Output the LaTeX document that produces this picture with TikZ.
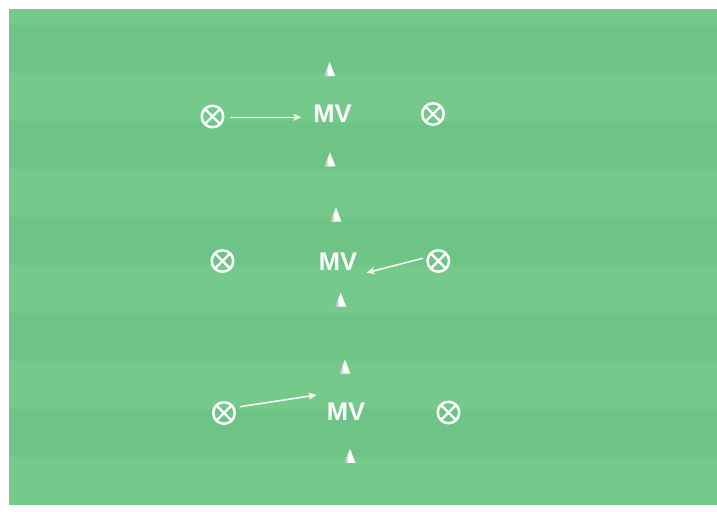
\documentclass[tikz,border=0pt]{standalone}
\usepackage{fontspec}
\setmainfont{Liberation Sans}
\usetikzlibrary{arrows.meta}
\definecolor{fieldlight}{RGB}{116,201,139}
\definecolor{fielddark}{RGB}{110,195,134}
\tikzset{
  player/.style={circle, draw=white, line width=2.5pt, minimum size=21.5pt, inner sep=0pt,
    path picture={\draw[white, line width=2.4pt]
      (path picture bounding box.north west) -- (path picture bounding box.south east)
      (path picture bounding box.north east) -- (path picture bounding box.south west);}},
  mv/.style={text=white, font=\fontsize{25.5}{25.5}\selectfont\bfseries, inner sep=0pt},
  run/.style={draw=white, line width=1.5pt, -{Stealth[length=8pt,width=7pt]}},
  cone/.pic={
    \fill[white] (-5.4,7) -- (0,-7) -- (5.4,7) -- cycle;
    \shade[left color=gray!60, right color=white]
      (-5.4,7) -- (-2.2,-1.3) -- (-1,7) -- cycle;
  }
}
\begin{document}
\begin{tikzpicture}[x=1pt,y=-1pt]
  \fill[white] (0,0) rectangle (717,511);
  \useasboundingbox (0,0) rectangle (717,511);
  % field
  \fill[fieldlight] (9,9) rectangle (717,505);
  \foreach \yy in {25,121,217,313,409}
    \fill[fielddark] (9,\yy) rectangle (717,\yy+48);

  % row 1
  \pic at (329.7,69) {cone};
  \pic at (330,159.3) {cone};
  \node[player] (p1l) at (212.5,116.5) {};
  \node[player] (p1r) at (433,114) {};
  \node[mv] (mv1) at (332.5,114) {MV};
  \coordinate (a1s) at (230,117.3);
  \coordinate (a1e) at (301,117.3);
  \draw[run] (a1s) -- (a1e);

  % row 2
  \pic at (336,214.5) {cone};
  \pic at (340.7,299.7) {cone};
  \node[player] (p2l) at (222.5,261) {};
  \node[player] (p2r) at (438.3,261) {};
  \node[mv] (mv2) at (338,261.5) {MV};
  \coordinate (a2s) at (422.7,258.3);
  \coordinate (a2e) at (366.7,272.7);
  \draw[run] (a2s) -- (a2e);

  % row 3
  \pic at (345,366.7) {cone};
  \pic at (350,455.8) {cone};
  \node[player] (p3l) at (224,413) {};
  \node[player] (p3r) at (448.5,412.5) {};
  \node[mv] (mv3) at (346,412) {MV};
  \coordinate (a3s) at (240,406.7);
  \coordinate (a3e) at (316.5,395);
  \draw[run] (a3s) -- (a3e);
\end{tikzpicture}
\end{document}
